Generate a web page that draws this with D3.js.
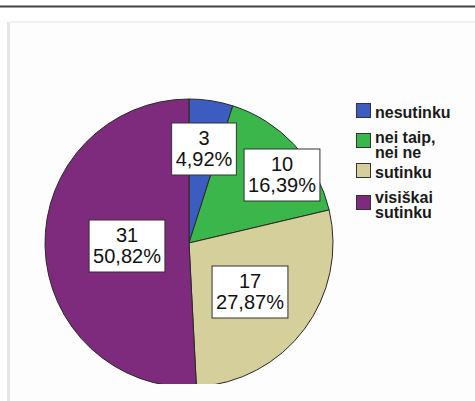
<!DOCTYPE html>
<html>
<head>
<meta charset="utf-8">
<script src="https://cdn.jsdelivr.net/npm/d3@7"></script>
<style>
body { margin: 0; background: #fff; }
svg text { font-family: "Liberation Sans", Arial, sans-serif; }
</style>
</head>
<body>
<svg width="475" height="401"></svg>
<script>
// data
var categories = ["nesutinku", "nei taip, nei ne", "sutinku", "visiškai sutinku"];
var legendLines = [["nesutinku"], ["nei taip,", "nei ne"], ["sutinku"], ["visiškai", "sutinku"]];
var counts = [3, 10, 17, 31];
var percents = ["4,92%", "16,39%", "27,87%", "50,82%"];
var colors = ["#3d5cbf", "#3bb64b", "#d5cf9b", "#7e2a7d"];
// label box centres (chart places them by hand)
var labelPos = [[204, 149], [282, 175], [250, 292], [127, 246]];

var svg = d3.select("svg");

// frame
svg.append("rect").attr("x", 0).attr("y", 0).attr("width", 475).attr("height", 401).attr("fill", "#fff");
svg.append("line").attr("x1", 0).attr("x2", 475).attr("y1", 6.5).attr("y2", 6.5)
	.attr("stroke", "#444").attr("stroke-width", 2);
svg.append("rect").attr("x", 7).attr("y", 22).attr("width", 3).attr("height", 379).attr("fill", "#e6e6e6");
svg.append("rect").attr("x", 9).attr("y", 21).attr("width", 466).attr("height", 2).attr("fill", "#f2f2f2");
svg.append("rect").attr("x", 10).attr("y", 23).attr("width", 465).attr("height", 378).attr("fill", "#fdfdfd");

var cx = 189, cy = 243, r = 144;

svg.append("clipPath").attr("id", "clip")
	.append("rect").attr("x", 0).attr("y", 0).attr("width", 475).attr("height", 384);

var pie = d3.pie().sort(null).value(function(d) { return d; });
var arc = d3.arc().innerRadius(0).outerRadius(r);

var g = svg.append("g")
	.attr("clip-path", "url(#clip)")
	.append("g")
	.attr("transform", "translate(" + cx + "," + cy + ")");

g.selectAll("path")
	.data(pie(counts))
	.enter().append("path")
	.attr("d", arc)
	.attr("fill", function(d, i) { return colors[i]; })
	.attr("stroke", "#2a2a2a")
	.attr("stroke-width", 1);

// labels
var labels = svg.append("g").selectAll("g")
	.data(counts)
	.enter().append("g")
	.attr("transform", function(d, i) { return "translate(" + labelPos[i][0] + "," + labelPos[i][1] + ")"; });

labels.each(function(d, i) {
	var el = d3.select(this);
	var t1 = el.append("text").attr("text-anchor", "middle").attr("y", -4)
		.attr("font-size", 20).attr("fill", "#111").text(d);
	var t2 = el.append("text").attr("text-anchor", "middle").attr("y", 17)
		.attr("font-size", 20).attr("fill", "#111").text(percents[i]);
	var w = Math.max(t1.node().getComputedTextLength(), t2.node().getComputedTextLength()) + 8;
	el.insert("rect", "text")
		.attr("x", -w / 2).attr("y", -26).attr("width", w).attr("height", 52)
		.attr("fill", "#fff").attr("stroke", "#333").attr("stroke-width", 1);
});

// legend
var legendTop = [103, 133, 163, 195];
var legendBase = [15, 10, 15, 8];
var legend = svg.append("g").selectAll("g")
	.data(categories)
	.enter().append("g")
	.attr("transform", function(d, i) { return "translate(356," + legendTop[i] + ")"; });

legend.append("rect")
	.attr("x", 0.5).attr("y", 0.5).attr("width", 14).attr("height", 14)
	.attr("fill", function(d, i) { return colors[i]; })
	.attr("stroke", "#333").attr("stroke-width", 1);

legend.each(function(d, i) {
	var t = d3.select(this).append("text")
		.attr("x", 19).attr("y", legendBase[i])
		.attr("font-size", 16).attr("font-weight", "bold").attr("fill", "#1a1a1a");
	legendLines[i].forEach(function(s, k) {
		t.append("tspan").attr("x", 19).attr("dy", k === 0 ? 0 : 14.5).text(s);
	});
});
</script>
</body>
</html>
